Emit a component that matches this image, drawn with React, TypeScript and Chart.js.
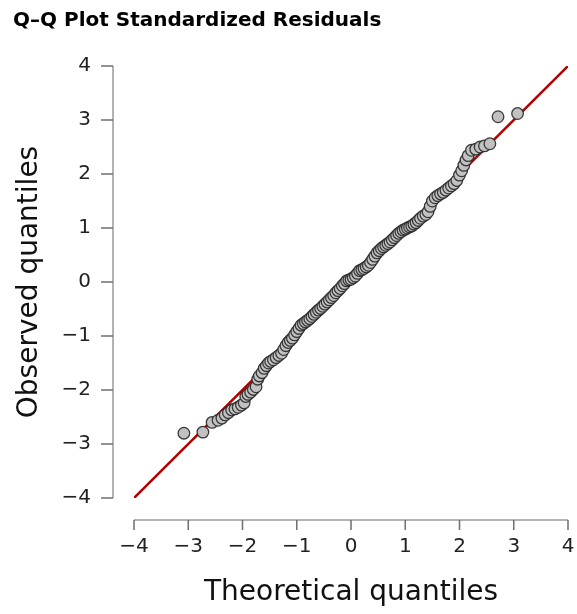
import { useEffect, useRef } from "react";
import { Chart, registerables } from "chart.js";

Chart.register(...registerables);

const theoretical = [
  -3.08, -2.73, -2.56, -2.45, -2.38, -2.32, -2.26, -2.2, -2.14, -2.08, -2.02, -1.97, -1.94, -1.9, -1.85, -1.8,
  -1.75, -1.72, -1.69, -1.64, -1.6, -1.56, -1.52, -1.48, -1.43, -1.38, -1.33, -1.28, -1.24, -1.2, -1.16, -1.12,
  -1.08, -1.04, -1.0, -0.96, -0.92, -0.88, -0.84, -0.8, -0.76, -0.72, -0.68, -0.64, -0.6, -0.56, -0.52, -0.48,
  -0.44, -0.4, -0.36, -0.32, -0.28, -0.24, -0.2, -0.16, -0.12, -0.08, -0.04, 0.0, 0.04, 0.08, 0.12, 0.16, 0.2,
  0.24, 0.28, 0.32, 0.36, 0.4, 0.44, 0.48, 0.52, 0.56, 0.6, 0.64, 0.68, 0.72, 0.76, 0.8, 0.84, 0.88, 0.92, 0.96,
  1.0, 1.04, 1.08, 1.12, 1.16, 1.2, 1.24, 1.28, 1.33, 1.38, 1.42, 1.46, 1.5, 1.55, 1.6, 1.65, 1.7, 1.75, 1.8,
  1.85, 1.9, 1.95, 2.0, 2.04, 2.08, 2.12, 2.16, 2.22, 2.3, 2.38, 2.46, 2.56, 2.71, 3.07,
];

const observed = [
  -2.8, -2.78, -2.6, -2.56, -2.52, -2.46, -2.42, -2.37, -2.35, -2.32, -2.28, -2.24, -2.12, -2.08, -2.04, -1.99,
  -1.94, -1.8, -1.74, -1.68, -1.6, -1.55, -1.5, -1.47, -1.44, -1.4, -1.36, -1.32, -1.25, -1.18, -1.12, -1.08,
  -1.04, -0.98, -0.92, -0.86, -0.8, -0.77, -0.74, -0.71, -0.68, -0.64, -0.6, -0.56, -0.52, -0.49, -0.45, -0.41,
  -0.37, -0.33, -0.29, -0.25, -0.2, -0.16, -0.12, -0.07, -0.03, 0.02, 0.04, 0.05, 0.08, 0.11, 0.16, 0.21, 0.23,
  0.25, 0.28, 0.31, 0.36, 0.42, 0.48, 0.54, 0.58, 0.62, 0.65, 0.68, 0.71, 0.74, 0.78, 0.82, 0.86, 0.9, 0.93, 0.96,
  0.98, 1.0, 1.02, 1.04, 1.07, 1.1, 1.14, 1.18, 1.22, 1.25, 1.3, 1.4, 1.5, 1.56, 1.6, 1.63, 1.66, 1.7, 1.74,
  1.78, 1.82, 1.88, 1.98, 2.06, 2.16, 2.26, 2.34, 2.44, 2.46, 2.5, 2.52, 2.56, 3.06, 3.12,
];

const refLineX = [-4, 4];
const refLineY = [-4, 4];

const tickValues = [-4, -3, -2, -1, 0, 1, 2, 3, 4];
const tickLabels = ["\u22124", "\u22123", "\u22122", "\u22121", "0", "1", "2", "3", "4"];

const FONT = "'DejaVu Sans', sans-serif";

const detachedAxes = {
  id: "detachedAxes",
  afterDraw(chart: any) {
    const { ctx } = chart;
    const xs = chart.scales.x;
    const ys = chart.scales.y;
    const xMin = xs.getPixelForValue(tickValues[0]);
    const xMax = xs.getPixelForValue(tickValues[tickValues.length - 1]);
    const yMin = ys.getPixelForValue(tickValues[0]);
    const yMax = ys.getPixelForValue(tickValues[tickValues.length - 1]);
    const xAxisY = yMin + 22;
    const yAxisX = xMin - 21;
    ctx.save();
    ctx.lineWidth = 1.5;
    ctx.strokeStyle = "#9a9a9a";
    ctx.beginPath();
    ctx.moveTo(xMin, xAxisY);
    ctx.lineTo(xMax, xAxisY);
    ctx.moveTo(yAxisX, yMin);
    ctx.lineTo(yAxisX, yMax);
    ctx.stroke();
    ctx.strokeStyle = "#6e6e6e";
    ctx.beginPath();
    for (const v of tickValues) {
      const px = xs.getPixelForValue(v);
      ctx.moveTo(px, xAxisY);
      ctx.lineTo(px, xAxisY + 10);
      const py = ys.getPixelForValue(v);
      ctx.moveTo(yAxisX, py);
      ctx.lineTo(yAxisX - 12, py);
    }
    ctx.stroke();
    ctx.restore();
  },
};

export default function App() {
  const ref = useRef<HTMLCanvasElement | null>(null);

  useEffect(() => {
    document.body.style.margin = "0";
    const canvas = ref.current;
    if (!canvas) return;
    const labelFor = (v: any) => {
      const i = tickValues.indexOf(Number(v));
      return i >= 0 ? tickLabels[i] : "";
    };
    const chart = new Chart(canvas, {
      type: "scatter",
      data: {
        datasets: [
          {
            label: "Residuals",
            data: theoretical.map((x, i) => ({ x, y: observed[i] })),
            backgroundColor: "#c1c1c1",
            borderColor: "rgba(40,40,40,0.9)",
            borderWidth: 1.3,
            pointRadius: 5.8,
            order: 1,
          },
          {
            label: "Reference",
            data: refLineX.map((x, i) => ({ x, y: refLineY[i] })),
            showLine: true,
            borderColor: "#b00000",
            borderWidth: 2.5,
            pointRadius: 0,
            order: 2,
          } as any,
        ],
      },
      options: {
        responsive: false,
        animation: false,
        devicePixelRatio: 1,
        layout: { padding: { left: 13, right: 9, top: 0, bottom: 0 } },
        plugins: {
          legend: { display: false },
          tooltip: { enabled: false },
          title: {
            display: true,
            text: "Q\u2013Q Plot Standardized Residuals",
            align: "start",
            color: "#000",
            font: { family: FONT, size: 20, weight: "bold" },
            padding: { top: 9, bottom: 33 },
          },
        },
        scales: {
          x: {
            type: "linear",
            min: -4,
            max: 4,
            afterFit: (s: any) => {
              s.height = 116;
              s.paddingLeft = 0;
              s.paddingRight = 0;
            },
            afterBuildTicks: (s: any) => {
              s.ticks = tickValues.map((v) => ({ value: v }));
            },
            grid: { display: false, drawTicks: false },
            border: { display: false },
            ticks: {
              padding: 37,
              color: "#222",
              font: { family: FONT, size: 20 },
              maxRotation: 0,
              autoSkip: false,
              callback: labelFor,
            },
            title: {
              display: true,
              text: "Theoretical quantiles",
              color: "#111",
              font: { family: FONT, size: 28 },
              padding: { top: 0, bottom: 4 },
            },
          },
          y: {
            type: "linear",
            min: -4,
            max: 4,
            afterFit: (s: any) => {
              s.width = 121;
              s.paddingTop = 0;
              s.paddingBottom = 0;
            },
            afterBuildTicks: (s: any) => {
              s.ticks = tickValues.map((v) => ({ value: v }));
            },
            grid: { display: false, drawTicks: false },
            border: { display: false },
            ticks: {
              padding: 43,
              color: "#222",
              font: { family: FONT, size: 20 },
              autoSkip: false,
              callback: labelFor,
            },
            title: {
              display: true,
              text: "Observed quantiles",
              color: "#111",
              font: { family: FONT, size: 28 },
              padding: { top: 0, bottom: 0 },
            },
          },
        },
      },
      plugins: [detachedAxes],
    } as any);
    return () => chart.destroy();
  }, []);

  return (
    <canvas
      ref={ref}
      width={577}
      height={614}
      style={{ display: "block", width: 577, height: 614 }}
    />
  );
}
